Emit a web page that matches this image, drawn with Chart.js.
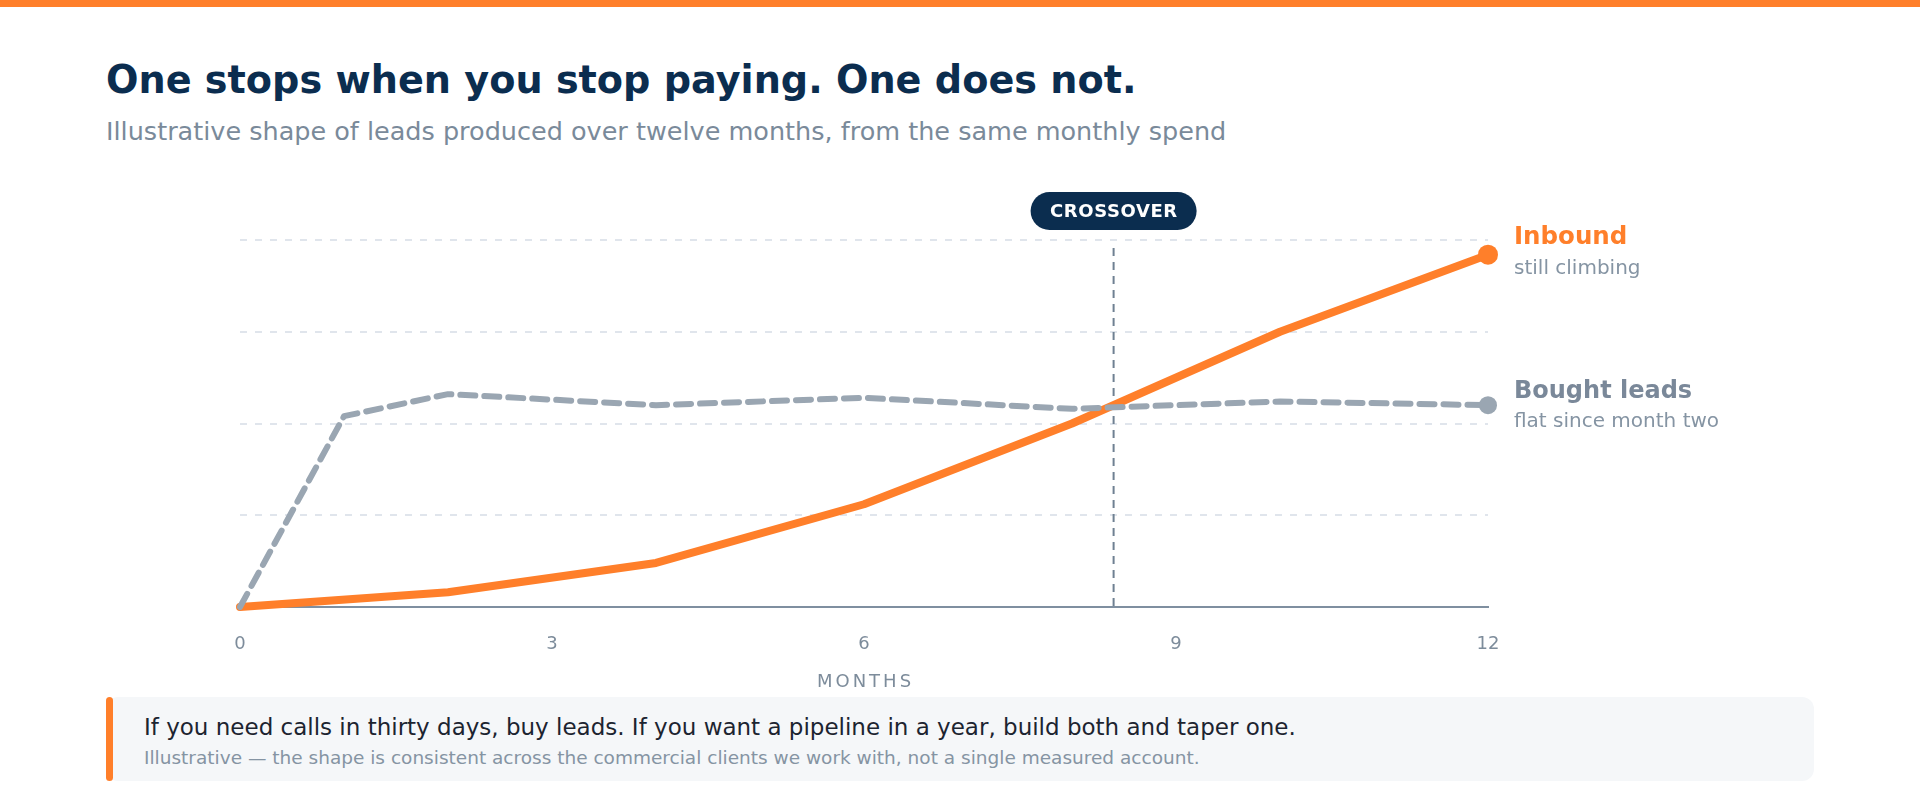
<!DOCTYPE html>
<html>
<head>
<meta charset="utf-8">
<script src="https://cdn.jsdelivr.net/npm/chart.js@4.4.1/dist/chart.umd.min.js"></script>
<style>
	html, body { margin: 0; padding: 0; background: #ffffff; }
	body { width: 1920px; height: 800px; position: relative; overflow: hidden; font-family: 'DejaVu Sans', sans-serif; }
	.topbar { position: absolute; left: 0; top: 0; width: 1920px; height: 7px; background: #ff7f2a; }
	.title { position: absolute; left: 106px; top: 61px; margin: 0; font-size: 38.2px; line-height: 1; font-weight: bold; color: #0b2d4f; white-space: nowrap; }
	.subtitle { position: absolute; left: 106px; top: 119px; margin: 0; font-size: 25.5px; line-height: 1; color: #7a8a9a; white-space: nowrap; }
	.chart-wrap { position: absolute; left: 0; top: 0; width: 1920px; height: 700px; }
	.note { position: absolute; left: 106px; top: 697px; width: 1708px; height: 84px; background: #f5f7f9; border-radius: 12px; }
	.note-bar { position: absolute; left: 0; top: 0; width: 7px; height: 84px; background: #ff7f2a; border-radius: 4px; }
	.note-main { position: absolute; left: 38px; top: 19px; font-size: 23px; line-height: 1; color: #1c2430; white-space: nowrap; }
	.note-small { position: absolute; left: 38px; top: 52px; font-size: 18.5px; line-height: 1; color: #8594a3; white-space: nowrap; }
</style>
</head>
<body>
<div class="topbar"></div>
<h1 class="title">One stops when you stop paying. One does not.</h1>
<p class="subtitle">Illustrative shape of leads produced over twelve months, from the same monthly spend</p>
<div class="chart-wrap"><canvas id="leads-chart" width="1920" height="700"></canvas></div>
<div class="note">
	<div class="note-bar"></div>
	<div class="note-main">If you need calls in thirty days, buy leads. If you want a pipeline in a year, build both and taper one.</div>
	<div class="note-small">Illustrative — the shape is consistent across the commercial clients we work with, not a single measured account.</div>
</div>
<script>
	'use strict';

	// months on the x axis, leads index on the y axis (top gridline = 100)
	const inboundMonths = [0, 2, 4, 6, 8, 10, 12];
	const inboundLeads = [0, 4, 12, 28, 50, 75, 96];
	const boughtMonths = [0, 1, 2, 4, 6, 8, 10, 12];
	const boughtLeads = [0, 52, 58, 55, 57, 54, 56, 55];
	const monthTicks = [0, 3, 6, 9, 12];
	const gridValues = [0, 25, 50, 75, 100];
	const crossoverMonth = 8.4;

	const orange = '#ff7f2a';
	const slate = '#9aa6b2';
	const navy = '#0b2d4f';

	function toPoints(xs, ys) {
		return xs.map(function (x, i) {
			return { x: x, y: ys[i] };
		});
	}

	function lastDot(radius) {
		return function (ctx) {
			return ctx.dataIndex === ctx.dataset.data.length - 1 ? radius : 0;
		};
	}

	function roundRect(ctx, x, y, w, h, r) {
		ctx.beginPath();
		ctx.moveTo(x + r, y);
		ctx.arcTo(x + w, y, x + w, y + h, r);
		ctx.arcTo(x + w, y + h, x, y + h, r);
		ctx.arcTo(x, y + h, x, y, r);
		ctx.arcTo(x, y, x + w, y, r);
		ctx.closePath();
	}

	const annotations = {
		id: 'annotations',
		beforeDatasetsDraw: function (chart) {
			const ctx = chart.ctx;
			const area = chart.chartArea;
			const x = chart.scales.x.getPixelForValue(crossoverMonth);

			ctx.save();
			ctx.strokeStyle = '#6f8092';
			ctx.lineWidth = 2;
			ctx.setLineDash([8, 6]);
			ctx.beginPath();
			ctx.moveTo(x, area.top + 8);
			ctx.lineTo(x, area.bottom);
			ctx.stroke();
			ctx.restore();
		},
		afterDatasetsDraw: function (chart) {
			const ctx = chart.ctx;
			const area = chart.chartArea;
			const xScale = chart.scales.x;
			const yScale = chart.scales.y;
			const cx = xScale.getPixelForValue(crossoverMonth);

			ctx.save();

			// crossover pill
			roundRect(ctx, cx - 83, area.top - 48, 166, 38, 19);
			ctx.fillStyle = navy;
			ctx.fill();
			ctx.letterSpacing = '0.6px';
			ctx.font = 'bold 18px "DejaVu Sans"';
			ctx.fillStyle = '#ffffff';
			ctx.textAlign = 'center';
			ctx.textBaseline = 'middle';
			ctx.fillText('CROSSOVER', cx + 0.3, area.top - 28);

			// end labels
			const lx = area.right + 26;
			const inboundY = yScale.getPixelForValue(inboundLeads[inboundLeads.length - 1]);
			const boughtY = yScale.getPixelForValue(boughtLeads[boughtLeads.length - 1]);
			ctx.letterSpacing = '0px';
			ctx.textAlign = 'left';

			ctx.font = 'bold 24.5px "DejaVu Sans"';
			ctx.fillStyle = orange;
			ctx.fillText('Inbound', lx, inboundY - 17);
			ctx.font = '20px "DejaVu Sans"';
			ctx.fillStyle = '#8594a3';
			ctx.fillText('still climbing', lx, inboundY + 14);

			ctx.font = 'bold 24px "DejaVu Sans"';
			ctx.fillStyle = '#7a8899';
			ctx.fillText('Bought leads', lx, boughtY - 13);
			ctx.font = '20px "DejaVu Sans"';
			ctx.fillStyle = '#8594a3';
			ctx.fillText('flat since month two', lx, boughtY + 17);

			// axis title
			ctx.letterSpacing = '3px';
			ctx.font = '18px "DejaVu Sans"';
			ctx.fillStyle = '#7d8c9b';
			ctx.textAlign = 'center';
			ctx.fillText('MONTHS', (area.left + area.right) / 2 + 1.5, area.bottom + 75);

			ctx.restore();
		}
	};

	Chart.defaults.font.family = '"DejaVu Sans"';

	new Chart(document.getElementById('leads-chart'), {
		type: 'line',
		data: {
			datasets: [{
				label: 'Bought leads',
				data: toPoints(boughtMonths, boughtLeads),
				borderColor: slate,
				backgroundColor: slate,
				borderWidth: 6,
				borderDash: [15, 9],
				borderCapStyle: 'round',
				borderJoinStyle: 'round',
				pointRadius: lastDot(9),
				pointBorderWidth: 0,
				pointBackgroundColor: slate,
				clip: false,
				tension: 0
			}, {
				label: 'Inbound',
				data: toPoints(inboundMonths, inboundLeads),
				borderColor: orange,
				backgroundColor: orange,
				borderWidth: 8,
				borderCapStyle: 'round',
				borderJoinStyle: 'round',
				pointRadius: lastDot(10),
				pointBorderWidth: 0,
				pointBackgroundColor: orange,
				clip: false,
				tension: 0
			}]
		},
		options: {
			responsive: false,
			animation: false,
			events: [],
			layout: { padding: { top: 240, left: 240, right: 432, bottom: 0 } },
			plugins: {
				legend: { display: false },
				tooltip: { enabled: false }
			},
			scales: {
				x: {
					type: 'linear',
					min: 0,
					max: 12,
					afterFit: function (scale) { scale.height = 93; },
					afterBuildTicks: function (scale) {
						scale.ticks = monthTicks.map(function (v) { return { value: v }; });
					},
					grid: { display: false, drawTicks: false },
					border: { display: true, color: '#7f8fa0', width: 2 },
					ticks: { padding: 27, color: '#7d8c9b', font: { size: 18 } }
				},
				y: {
					min: 0,
					max: 100,
					afterFit: function (scale) { scale.width = 0; },
					afterBuildTicks: function (scale) {
						scale.ticks = gridValues.map(function (v) { return { value: v }; });
					},
					ticks: { display: false },
					grid: {
						drawTicks: false,
						lineWidth: 2,
						color: function (ctx) {
							return ctx.tick && ctx.tick.value === 0 ? 'rgba(0,0,0,0)' : '#e0e5ec';
						}
					},
					border: { display: false, dash: [7, 8] }
				}
			}
		},
		plugins: [annotations]
	});
</script>
</body>
</html>
